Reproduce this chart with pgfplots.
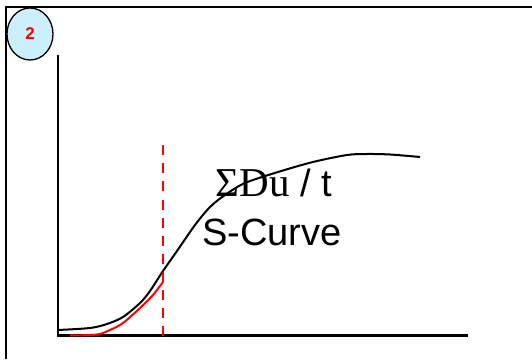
\documentclass[border=0pt]{standalone}
\usepackage{fontspec}
\setmainfont{Liberation Sans}
\newfontfamily\serif{Liberation Serif}
\usepackage{pgfplots}
\pgfplotsset{compat=1.18}

\begin{document}
\begin{tikzpicture}
\begin{axis}[
  scale only axis, width=532pt, height=359pt,
  xmin=0, xmax=532, ymin=0, ymax=359,
  hide axis, clip=true
]
% keep the full page area
\addplot[draw=none] coordinates {(0,0) (532,359)};
% frame (left and top edges)
\addplot[black, line width=2.2pt] coordinates {(6,0) (6,352) (532,352)};
% axes
\addplot[black, line width=2.4pt] coordinates {(58,304) (58,23.5) (468,23.5)};
% black S-curve
\addplot[black, line width=2pt, smooth] coordinates {
  (58,29) (90,31) (107,35) (123,42) (140,56) (150,68) (163,88)
  (177,108) (195,134) (210,152) (225,164) (245,176) (278,187)
  (313,197) (347,204) (367,205) (390,204.5) (420,202)};
% red curve
\addplot[red, line width=2pt, smooth] coordinates {
  (70,23.5) (97,24.5) (110,29) (123,36) (140,51) (153,64) (163,77)};
% dashed marker
\addplot[red, line width=2.8pt, dash pattern=on 10pt off 8pt] coordinates {(163,23.5) (163,217)};
% badge
\draw[black, line width=1.3pt, fill=cyan!20] (axis cs:30,325) ellipse [x radius=23pt, y radius=26pt];
\node[text=red, font=\fontsize{17}{17}\selectfont\bfseries] at (axis cs:30,325) {2};
% labels
\node[anchor=base, font=\fontsize{38}{44}\selectfont] at (axis cs:274,162) {{\serif\fontsize{41}{44}\selectfont ΣDu} / t};
\node[anchor=base, font=\fontsize{38}{44}\selectfont] at (axis cs:272,114) {S-Curve};
\end{axis}
\end{tikzpicture}
\end{document}
